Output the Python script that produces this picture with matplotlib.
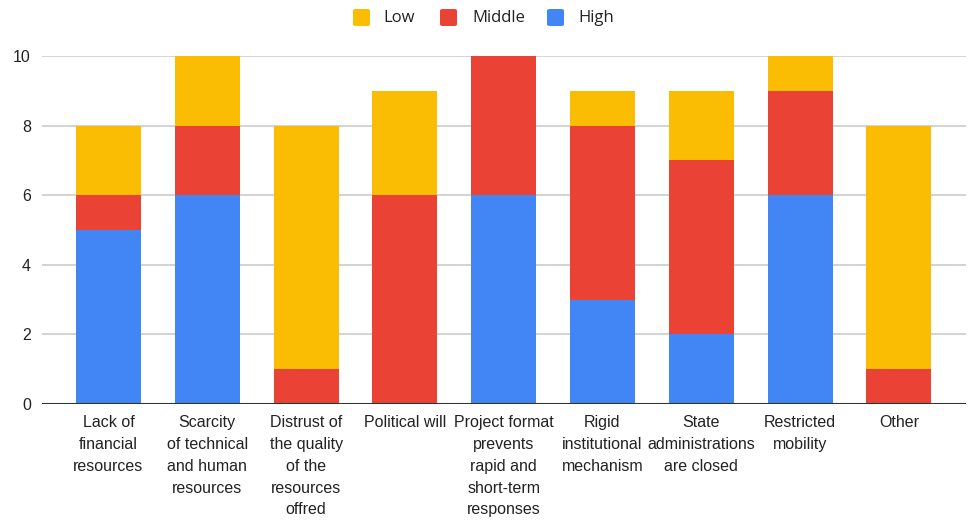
import matplotlib
matplotlib.use("Agg")
import matplotlib.pyplot as plt
from matplotlib.patches import FancyBboxPatch
import numpy as np

categories = [
    "Lack of\nfinancial\nresources",
    "Scarcity\nof technical\nand human\nresources",
    "Distrust of\nthe quality\nof the\nresources\noffred",
    "Political will",
    "Project format\nprevents\nrapid and\nshort-term\nresponses",
    "Rigid\ninstitutional\nmechanism",
    "State\nadministrations\nare closed",
    "Restricted\nmobility",
    "Other",
]
high = [5, 6, 0, 0, 6, 3, 2, 6, 0]
middle = [1, 2, 1, 6, 4, 5, 5, 3, 1]
low = [2, 2, 7, 3, 0, 1, 2, 1, 7]

series = [("High", high, "#4285F4"), ("Middle", middle, "#EA4335"), ("Low", low, "#FBBC04")]

W, H = 972, 520
fig = plt.figure(figsize=(W / 100, H / 100), dpi=100)
ax = fig.add_axes([42 / W, (H - 404) / H, 924 / W, 348 / H])

x = np.arange(len(categories))
bottom = np.zeros(len(categories))
for name, vals, color in series:
    vals = np.array(vals, dtype=float)
    ax.bar(x, vals, width=0.658, bottom=bottom, color=color, edgecolor="none",
           zorder=3, clip_on=False, label=name)
    bottom += vals

ax.set_xlim(-0.673, 8.68)
ax.set_ylim(0, 10)
ax.set_yticks([0, 2, 4, 6, 8, 10])
ax.grid(axis="y", color="#cccccc", linewidth=1.2, zorder=0)
ax.axhline(0, color="#333333", linewidth=1.5, zorder=4)
for s in ax.spines.values():
    s.set_visible(False)
ax.tick_params(axis="y", length=0, labelsize=11.5, labelcolor="#222222", pad=8)
ax.tick_params(axis="x", length=0, pad=8)
for lbl in ax.get_yticklabels():
    lbl.set_fontfamily("Liberation Sans")
ax.set_xticks(x)
ax.set_xticklabels(categories, family="Liberation Sans", fontsize=11.5,
                   color="#222222", linespacing=1.57)

# legend row at the top
legend_items = [("Low", "#FBBC04", 353, 383), ("Middle", "#EA4335", 440, 472),
                ("High", "#4285F4", 547, 578)]
for name, color, sx, tx in legend_items:
    sq = FancyBboxPatch((sx / W, 1 - 26 / H), 17 / W, 17 / H,
                        boxstyle="round,pad=0,rounding_size=0.003",
                        transform=fig.transFigure, facecolor=color,
                        edgecolor="none")
    fig.patches.append(sq)
    fig.text(tx / W, 1 - 18.5 / H, name, family="Open Sans", fontsize=12,
             color="#222222", va="center", ha="left")

fig.savefig("out.png", dpi=100, facecolor="white")
